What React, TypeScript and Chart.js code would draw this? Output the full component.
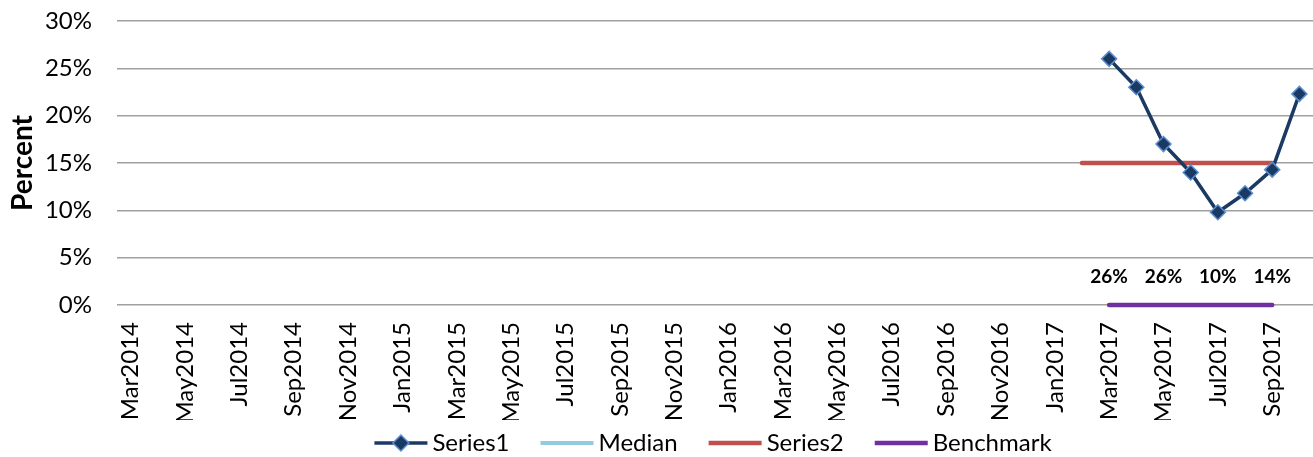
import React, { useEffect, useRef } from "react";
import { Chart, registerables } from "chart.js";

Chart.register(...registerables);

const months: string[] = [
  "Mar2014", "Apr2014", "May2014", "Jun2014", "Jul2014", "Aug2014", "Sep2014", "Oct2014", "Nov2014", "Dec2014",
  "Jan2015", "Feb2015", "Mar2015", "Apr2015", "May2015", "Jun2015", "Jul2015", "Aug2015", "Sep2015", "Oct2015", "Nov2015", "Dec2015",
  "Jan2016", "Feb2016", "Mar2016", "Apr2016", "May2016", "Jun2016", "Jul2016", "Aug2016", "Sep2016", "Oct2016", "Nov2016", "Dec2016",
  "Jan2017", "Feb2017", "Mar2017", "Apr2017", "May2017", "Jun2017", "Jul2017", "Aug2017", "Sep2017", "Oct2017",
];

const N = null;
// Series1 values (percent), Mar2017..Oct2017
const series1: (number | null)[] = [
  N, N, N, N, N, N, N, N, N, N,
  N, N, N, N, N, N, N, N, N, N, N, N,
  N, N, N, N, N, N, N, N, N, N, N, N,
  N, N, 26, 23, 17, 14, 9.8, 11.8, 14.3, 22.3,
];
const median: (number | null)[] = months.map(() => null);
const series2: (number | null)[] = [
  N, N, N, N, N, N, N, N, N, N,
  N, N, N, N, N, N, N, N, N, N, N, N,
  N, N, N, N, N, N, N, N, N, N, N, N,
  N, 15, 15, 15, 15, 15, 15, 15, 15, N,
];
const benchmark: (number | null)[] = [
  N, N, N, N, N, N, N, N, N, N,
  N, N, N, N, N, N, N, N, N, N, N, N,
  N, N, N, N, N, N, N, N, N, N, N, N,
  N, N, 0, 0, 0, 0, 0, 0, 0, N,
];
// Data labels drawn above the axis
const labelMonths: string[] = ["Mar2017", "May2017", "Jul2017", "Sep2017"];
const labelTexts: string[] = ["26%", "26%", "10%", "14%"];
const labelLevel = 3.0;

const yTicks: number[] = [0, 5, 10, 15, 20, 25, 30];

const FONT = "Lato, 'Open Sans', sans-serif";

const legendItems = [
  { text: "Series1", color: "#1B3A63", width: 3.5, marker: true },
  { text: "Median", color: "#93CDDD", width: 4, marker: false },
  { text: "Series2", color: "#C0504D", width: 4.5, marker: false },
  { text: "Benchmark", color: "#7030A0", width: 4.5, marker: false },
];

const labelPlugin = {
  id: "dataLabelsCustom",
  afterDatasetsDraw(chart: any) {
    const { ctx, scales } = chart;
    ctx.save();
    ctx.font = `bold 19px ${FONT}`;
    ctx.fillStyle = "#000";
    ctx.textAlign = "center";
    ctx.textBaseline = "middle";
    labelMonths.forEach((m, i) => {
      const x = scales.x.getPixelForValue(months.indexOf(m));
      const y = scales.y.getPixelForValue(labelLevel);
      ctx.fillText(labelTexts[i], x, y);
    });
    ctx.restore();
  },
};

const legendPlugin = {
  id: "customLegend",
  afterDraw(chart: any) {
    const { ctx, chartArea } = chart;
    ctx.save();
    ctx.font = `24px ${FONT}`;
    const lineLen = 53;
    const gap = 5;
    const itemGap = 31;
    const widths = legendItems.map((it) => lineLen + gap + ctx.measureText(it.text).width);
    const total = widths.reduce((a, b) => a + b, 0) + itemGap * (legendItems.length - 1);
    let x = (chartArea.left + chartArea.right) / 2 - total / 2 - 2;
    const y = 443;
    legendItems.forEach((it, i) => {
      ctx.strokeStyle = it.color;
      ctx.lineWidth = it.width;
      ctx.beginPath();
      ctx.moveTo(x, y);
      ctx.lineTo(x + lineLen, y);
      ctx.stroke();
      if (it.marker) {
        const cx = x + lineLen / 2;
        const r = 8;
        ctx.beginPath();
        ctx.moveTo(cx, y - r);
        ctx.lineTo(cx + r, y);
        ctx.lineTo(cx, y + r);
        ctx.lineTo(cx - r, y);
        ctx.closePath();
        ctx.fillStyle = "#1B3A63";
        ctx.fill();
        ctx.strokeStyle = "#5B8FCF";
        ctx.lineWidth = 1.5;
        ctx.stroke();
      }
      ctx.fillStyle = "#000";
      ctx.textAlign = "left";
      ctx.textBaseline = "middle";
      ctx.fillText(it.text, x + lineLen + gap, y);
      x += widths[i] + itemGap;
    });
    ctx.restore();
  },
};

export default function App() {
  const ref = useRef<HTMLCanvasElement | null>(null);
  useEffect(() => {
    if (!ref.current) return;
    const chart = new Chart(ref.current, {
      type: "line",
      data: {
        labels: months,
        datasets: [
          {
            label: "Series1",
            data: series1,
            borderColor: "#1B3A63",
            backgroundColor: "#1B3A63",
            borderWidth: 3.5,
            pointStyle: "rectRot",
            pointRadius: 7.5,
            pointBackgroundColor: "#1B3A63",
            pointBorderColor: "#5B8FCF",
            pointBorderWidth: 1.5,
            spanGaps: false,
            order: 0,
          },
          {
            label: "Median",
            data: median,
            borderColor: "#93CDDD",
            borderWidth: 4,
            pointRadius: 0,
            order: 3,
          },
          {
            label: "Series2",
            data: series2,
            borderColor: "#C0504D",
            borderWidth: 4.5,
            pointRadius: 0,
            borderCapStyle: "round",
            order: 2,
          },
          {
            label: "Benchmark",
            data: benchmark,
            borderColor: "#7030A0",
            borderWidth: 4.5,
            pointRadius: 0,
            borderCapStyle: "round",
            clip: false,
            order: 1,
          },
        ],
      },
      options: {
        animation: false,
        responsive: true,
        maintainAspectRatio: false,
        layout: { autoPadding: false, padding: { left: 0, right: 0, top: 21, bottom: 37 } },
        plugins: {
          legend: { display: false },
          tooltip: { enabled: false },
        },
        scales: {
          x: {
            offset: true,
            grid: { display: false, drawTicks: false },
            border: { display: false },
            afterFit: (axis: any) => {
              axis.height = 115;
              axis.paddingLeft = 0;
              axis.paddingRight = 0;
            },
            ticks: {
              autoSkip: false,
              maxRotation: 90,
              minRotation: 90,
              padding: 17,
              color: "#000",
              font: { family: FONT, size: 24 },
              callback: (_v: any, i: number) => (i % 2 === 0 ? months[i] : ""),
            },
          },
          y: {
            min: 0,
            max: 30,
            afterBuildTicks: (axis: any) => {
              axis.ticks = yTicks.map((v) => ({ value: v }));
            },
            afterFit: (axis: any) => {
              axis.width = 117;
              axis.paddingTop = 0;
              axis.paddingBottom = 0;
            },
            grid: { color: "#A0A0A0", lineWidth: 1.5, drawTicks: false },
            border: { display: false },
            ticks: {
              padding: 25,
              color: "#000",
              font: { family: FONT, size: 24 },
              callback: (v: any) => `${v}%`,
            },
            title: {
              display: true,
              text: "Percent",
              color: "#000",
              font: { family: FONT, size: 28, weight: "bold" },
              padding: { top: 6, bottom: 0 },
            },
          },
        },
      },
      plugins: [labelPlugin, legendPlugin],
    });
    return () => chart.destroy();
  }, []);
  return (
    <div style={{ position: "absolute", left: 0, top: 0, width: 1313, height: 457 }}>
      <canvas ref={ref} />
    </div>
  );
}
